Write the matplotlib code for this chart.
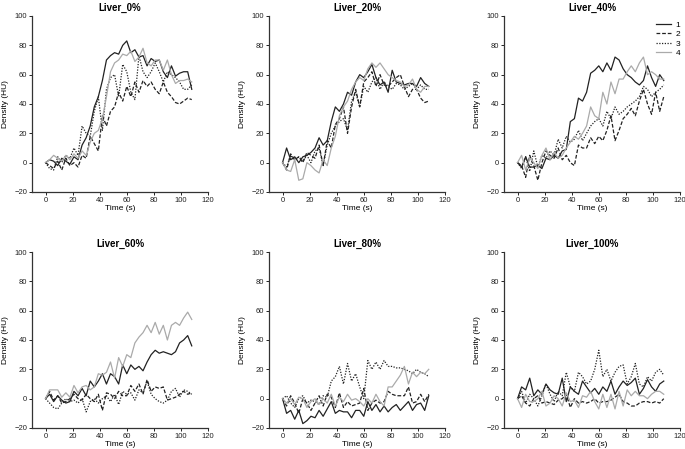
import matplotlib
matplotlib.use('Agg')
import matplotlib.pyplot as plt
import numpy as np

plt.rcParams['font.family'] = ['Liberation Sans', 'DejaVu Sans']

# time points (s)
time = np.arange(0, 109, 3)

titles = ['Liver_0%', 'Liver_20%', 'Liver_40%', 'Liver_60%', 'Liver_80%', 'Liver_100%']
series_names = ['1', '2', '3', '4']

# density (HU) per panel, series 1..4
liver_0 = [
    [0, 2, 1, -2, 3, 1, -1, 4, 2, 12, 17, 25, 38, 45, 56, 70, 73, 75, 74, 80, 83, 75, 77, 72, 73, 66, 71, 69, 70, 62, 58, 66, 59, 61, 62, 62, 50],
    [0, -2, -4, 1, -5, 3, -2, 0, -3, 5, 3, 18, 13, 8, 32, 25, 35, 38, 48, 42, 52, 45, 55, 48, 56, 52, 55, 50, 47, 55, 48, 45, 41, 40, 42, 44, 43],
    [0, -4, -5, 4, 0, 5, 3, 10, 5, 25, 20, 18, 35, 45, 22, 50, 58, 60, 45, 67, 62, 48, 43, 73, 62, 58, 62, 68, 62, 55, 62, 60, 58, 55, 50, 50, 53],
    [0, 2, 5, 3, 1, 5, 2, 6, 3, 8, 5, 14, 20, 22, 30, 45, 62, 68, 70, 74, 73, 76, 69, 72, 78, 68, 66, 70, 70, 63, 70, 60, 54, 56, 56, 57, 55],
]
liver_20 = [
    [0, 10, 2, 4, 0, 4, 5, 7, 10, 17, 12, 15, 28, 38, 35, 40, 48, 46, 55, 60, 58, 62, 67, 58, 53, 55, 48, 63, 55, 54, 53, 54, 54, 52, 58, 54, 52],
    [0, -5, 6, 2, 4, 0, 7, 5, 3, 12, -2, 15, 10, 26, 30, 38, 20, 38, 50, 38, 55, 58, 62, 52, 60, 53, 52, 55, 58, 60, 52, 45, 50, 50, 44, 41, 42],
    [0, -3, 5, 1, 4, 1, 5, 0, 8, 10, -2, 12, 20, 25, 28, 30, 22, 42, 48, 38, 52, 48, 55, 58, 50, 55, 52, 50, 54, 53, 50, 52, 54, 50, 53, 50, 50],
    [0, -5, -6, 2, -12, -11, 0, -2, -5, -7, 2, -2, 10, 18, 32, 38, 42, 50, 55, 58, 56, 64, 68, 65, 68, 64, 60, 58, 56, 55, 52, 53, 57, 50, 48, 52, 52],
]
liver_40 = [
    [0, -3, 4, -3, -3, -2, -4, 3, 2, 5, 3, 8, 9, 28, 30, 44, 42, 48, 61, 63, 66, 62, 68, 63, 72, 70, 64, 60, 58, 55, 53, 56, 66, 58, 52, 60, 56],
    [0, -2, -10, 5, -2, -12, 0, 8, 5, 3, 10, 2, 5, 0, -2, 12, 10, 10, 17, 13, 18, 15, 22, 32, 15, 22, 30, 33, 37, 32, 42, 50, 40, 33, 48, 35, 45],
    [0, -4, 4, -6, 8, -3, 5, 3, 8, 5, 16, 10, 18, 14, 16, 22, 15, 20, 25, 28, 30, 25, 35, 30, 38, 33, 35, 38, 40, 42, 45, 52, 50, 45, 48, 50, 53],
    [0, 5, -5, 3, 0, -4, 5, 10, 2, 7, 3, 5, 10, 14, 18, 16, 20, 25, 38, 32, 30, 48, 40, 55, 47, 57, 57, 62, 66, 62, 68, 72, 60, 62, 60, 57, 57],
]
liver_60 = [
    [0, 3, -2, 2, -1, -3, -2, 5, 2, 7, 2, 12, 8, 12, 17, 10, 17, 15, 10, 23, 17, 23, 20, 22, 19, 25, 30, 33, 31, 32, 31, 30, 32, 38, 40, 43, 36],
    [0, 5, -1, 2, -3, -2, 0, 3, 0, -1, 3, 0, -2, 3, -8, 4, 3, 0, 5, 2, 2, 9, 5, 10, 3, 13, 5, 8, 7, 8, -1, 0, 1, 3, 5, 3, 4],
    [0, -3, -6, -7, -3, 0, -2, -1, -3, 0, -9, -2, 0, -3, 0, 2, -2, 3, -4, 5, 3, 4, -1, 6, 4, 12, 3, 0, -2, -3, -1, 5, 7, 1, 6, 5, 3],
    [0, 6, 6, 6, 1, 4, 1, 9, 4, 8, 9, 6, 8, 17, 16, 18, 25, 14, 28, 22, 30, 28, 38, 42, 45, 50, 45, 52, 44, 50, 40, 50, 52, 50, 55, 59, 54],
]
liver_80 = [
    [0, -10, -8, -14, -8, -17, -15, -12, -13, -8, -12, -7, -2, -10, -8, -9, -9, -13, -8, -8, -12, -2, -8, -4, -9, -5, -9, -6, -4, -8, -5, -2, -8, -4, -3, -8, 2],
    [0, -5, 2, -3, -10, 0, -3, -8, -3, 2, -5, 3, 1, -6, 4, -6, -2, -5, -4, -3, 7, -8, -3, -1, -3, -2, 5, 3, 2, 2, 2, 8, -3, -2, 3, -2, 3],
    [0, 2, -3, -6, 0, 2, -3, -1, -2, -4, 2, 1, 12, 15, 22, 10, 24, 12, 17, 8, 0, 26, 20, 25, 20, 26, 22, 22, 21, 21, 20, 19, 17, 20, 18, 17, 15],
    [0, -3, 0, -4, 1, 0, -6, -2, 0, -4, 0, -3, 3, -5, 1, -2, 3, -1, 0, -2, -5, 0, -3, 3, -2, -5, 8, 8, 12, 16, 22, 10, 18, 15, 18, 17, 20],
]
liver_100 = [
    [0, 8, 6, 14, 2, 6, 3, 10, 6, 4, 3, 14, -2, 8, 5, 3, 12, 8, 4, 7, 3, 8, 5, 12, 3, 8, 12, 9, 11, 14, 3, 7, 13, 8, 5, 10, 12],
    [0, 2, -3, -5, 0, 2, -3, -2, -3, -4, -1, 0, 3, -6, 0, -3, -2, -3, -2, 0, -3, -2, -2, -1, 1, 3, -2, -3, -5, -5, -3, -2, -2, -3, -2, -3, 0],
    [0, 5, -3, 3, 0, -5, 2, 10, 3, -2, 5, 2, 18, 8, 5, 18, 15, 10, 12, 20, 33, 15, 20, 12, 18, 22, 23, 10, 15, 24, 10, 8, 15, 12, 18, 20, 16],
    [0, -6, 3, -2, -2, 0, 5, -5, -3, 2, 0, -5, 4, -2, -1, -6, 2, 1, 5, -2, -7, 3, -6, 3, -7, 5, -5, 6, 2, 5, 2, 2, 0, 3, 5, 5, 3],
]

panels = [liver_0, liver_20, liver_40, liver_60, liver_80, liver_100]

styles = [
    dict(color='#222222', linestyle='-'),
    dict(color='#222222', linestyle=(0, (3, 1.5))),
    dict(color='#222222', linestyle=(0, (1, 1.2))),
    dict(color='#aaaaaa', linestyle='-'),
]

W, H = 685, 449
fig = plt.figure(figsize=(W / 100, H / 100), dpi=100)

col_left = [32, 269, 504]
col_width = 176
row_top = [16, 252]
row_height = 176

for k, (title, data) in enumerate(zip(titles, panels)):
    r, c = divmod(k, 3)
    ax = fig.add_axes([col_left[c] / W, 1 - (row_top[r] + row_height) / H,
                       col_width / W, row_height / H])
    for vals, name, st in zip(data, series_names, styles):
        ax.plot(time, vals, linewidth=0.9, label=name, **st)

    ax.set_xlim(-10, 120)
    ax.set_ylim(-20, 100)
    ax.set_xticks(range(0, 121, 20))
    ax.set_yticks(range(-20, 101, 20))
    ax.spines['top'].set_visible(False)
    ax.spines['right'].set_visible(False)
    for s in ['left', 'bottom']:
        ax.spines[s].set_linewidth(0.9)
        ax.spines[s].set_color('#333333')
    ax.tick_params(length=2, width=0.7, pad=1.5, labelsize=5.5, colors='#222222')
    ax.set_title(title, fontsize=7, fontweight='bold', pad=4)
    ax.set_xlabel('Time (s)', fontsize=6, labelpad=1)
    ax.set_ylabel('Density (HU)', fontsize=6, labelpad=4)

    if k == 2:
        ax.legend(loc='upper right', bbox_to_anchor=(1.03, 1.0), frameon=False,
                  fontsize=6, handlelength=1.8, labelspacing=0.2,
                  handletextpad=0.6, borderaxespad=0.2)

fig.savefig('out.png', dpi=100)
